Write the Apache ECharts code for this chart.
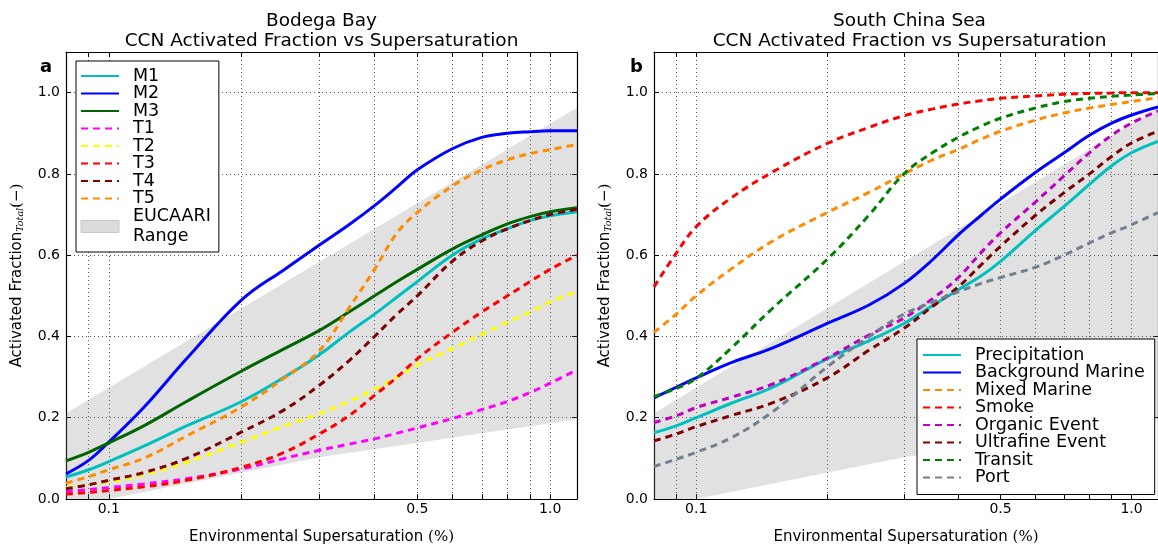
<!DOCTYPE html>
<html>
<head>
<meta charset="utf-8">
<script src="https://cdn.jsdelivr.net/npm/echarts@6/dist/echarts.min.js"></script>
<style>
  html, body { margin: 0; padding: 0; background: #fff; }
  #chart { width: 1158px; height: 550px; }
</style>
</head>
<body>
<div id="chart"></div>
<script>
// Environmental supersaturation (%) at which every curve is sampled
const supersat = [0.08, 0.09, 0.1, 0.12, 0.15, 0.2, 0.25, 0.3, 0.35, 0.4, 0.45, 0.5, 0.6, 0.7, 0.8, 0.9, 1.0, 1.15];

// Panel a: Bodega Bay
const bodegaM1 = [0.054, 0.072, 0.092, 0.13, 0.18, 0.24, 0.30, 0.355, 0.41, 0.455, 0.497, 0.535, 0.60, 0.64, 0.665, 0.685, 0.697, 0.707];
const bodegaM2 = [0.062, 0.095, 0.14, 0.225, 0.345, 0.49, 0.565, 0.625, 0.675, 0.722, 0.768, 0.81, 0.862, 0.89, 0.9, 0.904, 0.906, 0.906];
const bodegaM3 = [0.094, 0.115, 0.138, 0.18, 0.24, 0.315, 0.37, 0.415, 0.46, 0.50, 0.535, 0.565, 0.615, 0.65, 0.677, 0.695, 0.707, 0.717];
const bodegaT1 = [0.018, 0.023, 0.028, 0.037, 0.05, 0.074, 0.10, 0.12, 0.135, 0.148, 0.162, 0.175, 0.198, 0.22, 0.24, 0.262, 0.285, 0.318];
const bodegaT2 = [0.028, 0.035, 0.042, 0.06, 0.09, 0.14, 0.18, 0.21, 0.24, 0.27, 0.30, 0.33, 0.37, 0.405, 0.435, 0.46, 0.485, 0.51];
const bodegaT3 = [0.012, 0.016, 0.021, 0.03, 0.046, 0.078, 0.115, 0.16, 0.205, 0.255, 0.30, 0.345, 0.41, 0.46, 0.50, 0.535, 0.565, 0.60];
const bodegaT4 = [0.025, 0.035, 0.046, 0.065, 0.10, 0.165, 0.22, 0.28, 0.34, 0.40, 0.455, 0.50, 0.585, 0.635, 0.665, 0.685, 0.70, 0.713];
const bodegaT5 = [0.039, 0.055, 0.072, 0.10, 0.155, 0.227, 0.298, 0.365, 0.47, 0.565, 0.655, 0.705, 0.77, 0.81, 0.835, 0.85, 0.86, 0.872];

// Panel b: South China Sea
const scsPrecipitation = [0.163, 0.18, 0.20, 0.235, 0.275, 0.345, 0.39, 0.432, 0.477, 0.515, 0.548, 0.585, 0.66, 0.72, 0.774, 0.82, 0.852, 0.88];
const scsBackground    = [0.249, 0.275, 0.298, 0.335, 0.372, 0.432, 0.478, 0.53, 0.59, 0.65, 0.697, 0.738, 0.803, 0.852, 0.895, 0.925, 0.945, 0.965];
const scsMixed         = [0.41, 0.455, 0.50, 0.565, 0.635, 0.705, 0.755, 0.80, 0.835, 0.86, 0.885, 0.905, 0.932, 0.95, 0.962, 0.971, 0.978, 0.988];
const scsSmoke         = [0.522, 0.605, 0.67, 0.74, 0.805, 0.875, 0.915, 0.943, 0.96, 0.972, 0.98, 0.986, 0.992, 0.996, 0.998, 0.999, 1.0, 1.0];
const scsOrganic       = [0.188, 0.205, 0.225, 0.25, 0.283, 0.347, 0.404, 0.445, 0.494, 0.545, 0.605, 0.655, 0.73, 0.795, 0.852, 0.895, 0.925, 0.955];
const scsUltrafine     = [0.143, 0.16, 0.178, 0.205, 0.237, 0.298, 0.367, 0.42, 0.475, 0.522, 0.575, 0.622, 0.697, 0.754, 0.80, 0.843, 0.876, 0.905];
const scsTransit       = [0.252, 0.272, 0.297, 0.37, 0.47, 0.59, 0.70, 0.80, 0.853, 0.89, 0.917, 0.937, 0.962, 0.978, 0.986, 0.991, 0.994, 0.998];
const scsPort          = [0.08, 0.098, 0.115, 0.15, 0.215, 0.325, 0.40, 0.455, 0.485, 0.51, 0.53, 0.545, 0.57, 0.60, 0.63, 0.655, 0.675, 0.705];

// EUCAARI range band (same in both panels)
const bandS    = [0.08, 0.1, 0.3, 1.15];
const bandLow  = [0, 0, 0.103, 0.196];
const bandHigh = [0.211, 0.274, 0.584, 0.963];

// Axis ticks
const xTickValues  = [0.09, 0.1, 0.2, 0.3, 0.4, 0.5, 0.6, 0.7, 0.8, 0.9, 1.0];
const xLabelValues = [0.1, 0.5, 1.0];
const yTickValues  = [0, 0.2, 0.4, 0.6, 0.8, 1.0];

const FONT = 'DejaVu Sans';
const X_MIN = 0.08, X_MAX = 1.15, Y_MIN = 0, Y_MAX = 1.1;
const BAND_COLOR = 'rgba(128,128,128,0.24)';

const gridDot = { show: true, lineStyle: { color: '#555', width: 1, type: [1, 3] } };

function xAxes(gridIndex) {
  const base = { type: 'log', logBase: 10, min: X_MIN, max: X_MAX, gridIndex };
  return [
    Object.assign({}, base, {
      position: 'bottom',
      axisLine: { show: true, onZero: false, lineStyle: { color: '#000', width: 1.2 } },
      axisTick: { show: true, inside: true, length: 5, customValues: xTickValues, lineStyle: { color: '#000' } },
      axisLabel: { show: true, customValues: xLabelValues, margin: 3, fontSize: 14, fontFamily: FONT, color: '#000',
                   formatter: v => Number(v).toFixed(1) },
      splitLine: gridDot,
      name: 'Environmental Supersaturation {m|(%)}',
      nameLocation: 'middle', nameGap: 31,
      nameTextStyle: { fontSize: 15, fontFamily: FONT, color: '#000',
                       rich: { m: { fontSize: 15, fontFamily: 'DejaVu Serif', color: '#000' } } }
    }),
    Object.assign({}, base, {
      position: 'top',
      axisLine: { show: true, onZero: false, lineStyle: { color: '#000', width: 1.2 } },
      axisTick: { show: true, inside: true, length: 5, customValues: xTickValues, lineStyle: { color: '#000' } },
      axisLabel: { show: false },
      splitLine: { show: false }
    })
  ];
}

function yAxes(gridIndex) {
  const base = { type: 'value', min: Y_MIN, max: Y_MAX, gridIndex };
  return [
    Object.assign({}, base, {
      position: 'left',
      axisLine: { show: true, onZero: false, lineStyle: { color: '#000', width: 1.2 } },
      axisTick: { show: true, inside: true, length: 5, customValues: yTickValues, lineStyle: { color: '#000' } },
      axisLabel: { show: true, customValues: yTickValues, margin: 6, fontSize: 14, fontFamily: FONT, color: '#000',
                   formatter: v => Number(v).toFixed(1) },
      splitLine: gridDot,
      name: 'Activated Fraction{sub|Total}{m|(−)}',
      nameLocation: 'middle', nameGap: 40, nameRotate: 90,
      nameTextStyle: { fontSize: 15, fontFamily: FONT, color: '#000',
        rich: {
          sub: { fontSize: 9.5, fontStyle: 'italic', fontFamily: 'DejaVu Serif', color: '#000', padding: [8, 0, 0, 0] },
          m: { fontSize: 15, fontFamily: 'DejaVu Serif', color: '#000' }
        } }
    }),
    Object.assign({}, base, {
      position: 'right',
      axisLine: { show: true, onZero: false, lineStyle: { color: '#000', width: 1.2 } },
      axisTick: { show: true, inside: true, length: 5, customValues: yTickValues, lineStyle: { color: '#000' } },
      axisLabel: { show: false },
      splitLine: { show: false }
    })
  ];
}

function curve(name, values, color, dashed, axisIndex) {
  return {
    type: 'line', name, xAxisIndex: axisIndex, yAxisIndex: axisIndex,
    data: supersat.map((s, i) => [s, values[i]]),
    smooth: 0.4, symbol: 'none', showSymbol: false,
    lineStyle: { color, width: 3, type: dashed ? [7, 5] : 'solid', cap: 'butt' },
    itemStyle: { color },
    z: 3, silent: true
  };
}

// Shaded range drawn as one polygon: upper edge left to right, lower edge back
function band(axisIndex) {
  return {
    type: 'custom', name: 'EUCAARI Range', xAxisIndex: axisIndex, yAxisIndex: axisIndex,
    data: bandS.map((s, i) => [s, bandLow[i], bandHigh[i]]),
    encode: { x: 0, y: [1, 2] },
    itemStyle: { color: '#dcdcdc' },
    renderItem: (params, api) => {
      if (params.dataIndex !== 0) return null;
      const upper = bandS.map((s, i) => api.coord([s, bandHigh[i]]));
      const lower = bandS.map((s, i) => api.coord([s, bandLow[i]])).reverse();
      return { type: 'polygon', shape: { points: upper.concat(lower) }, style: { fill: BAND_COLOR } };
    },
    clip: true, silent: true, z: 1
  };
}

const COLORS = {
  cyan: '#00bfbf', blue: '#0000ff', dkgreen: '#006400', magenta: '#ff00ff', yellow: '#ffff00',
  red: '#ff0000', maroon: '#7f0000', orange: '#ff8c00', m: '#bf00bf', green: '#008000', slate: '#708090'
};

const series = [
  band(0),
  curve('M1', bodegaM1, COLORS.cyan, false, 0),
  curve('M2', bodegaM2, COLORS.blue, false, 0),
  curve('M3', bodegaM3, COLORS.dkgreen, false, 0),
  curve('T1', bodegaT1, COLORS.magenta, true, 0),
  curve('T2', bodegaT2, COLORS.yellow, true, 0),
  curve('T3', bodegaT3, COLORS.red, true, 0),
  curve('T4', bodegaT4, COLORS.maroon, true, 0),
  curve('T5', bodegaT5, COLORS.orange, true, 0),
  band(2),
  curve('Precipitation', scsPrecipitation, COLORS.cyan, false, 2),
  curve('Background Marine', scsBackground, COLORS.blue, false, 2),
  curve('Mixed Marine', scsMixed, COLORS.orange, true, 2),
  curve('Smoke', scsSmoke, COLORS.red, true, 2),
  curve('Organic Event', scsOrganic, COLORS.m, true, 2),
  curve('Ultrafine Event', scsUltrafine, COLORS.maroon, true, 2),
  curve('Transit', scsTransit, COLORS.green, true, 2),
  curve('Port', scsPort, COLORS.slate, true, 2)
];

const legendText = {
  fontSize: 17.5, fontFamily: FONT, color: '#000', lineHeight: 16.95, padding: [0, 0, 0, 9],
  rich: { two: { fontSize: 17.5, fontFamily: FONT, color: '#000', lineHeight: 19.5 } }
};

const legendBase = {
  orient: 'vertical', itemGap: -0.5, itemWidth: 38, itemHeight: 12, selectedMode: false,
  backgroundColor: '#fff', borderColor: '#000', borderWidth: 1, borderRadius: 0,
  itemStyle: { opacity: 0 },
  textStyle: legendText
};

const titleText = { fontSize: 18.5, fontWeight: 'normal', fontFamily: FONT, color: '#000', lineHeight: 20 };

const option = {
  animation: false,
  backgroundColor: '#fff',
  title: [
    { text: 'Bodega Bay\nCCN Activated Fraction vs Supersaturation', left: 321.5, top: 11, padding: 0,
      textAlign: 'center', textStyle: titleText },
    { text: 'South China Sea\nCCN Activated Fraction vs Supersaturation', left: 909.5, top: 11, padding: 0,
      textAlign: 'center', textStyle: titleText }
  ],
  grid: [
    { left: 66, top: 52, width: 511, height: 450, containLabel: false },
    { left: 654, top: 52, width: 511, height: 450, containLabel: false }
  ],
  xAxis: [].concat(xAxes(0), xAxes(1)),
  yAxis: [].concat(yAxes(0), yAxes(1)),
  legend: [
    Object.assign({}, legendBase, {
      left: 76, top: 61, padding: [6, 8, 6, 4],
      formatter: n => (n === 'EUCAARI Range' ? '{two|EUCAARI\nRange}' : n),
      data: ['M1', 'M2', 'M3', 'T1', 'T2', 'T3', 'T4', 'T5',
             { name: 'EUCAARI Range', icon: 'rect',
               itemStyle: { color: '#dcdcdc', borderColor: '#c8c8c8', borderWidth: 1, opacity: 1 } }]
    }),
    Object.assign({}, legendBase, {
      left: 917, top: 339, padding: [7, 10, 8, 5],
      data: ['Precipitation', 'Background Marine', 'Mixed Marine', 'Smoke',
             'Organic Event', 'Ultrafine Event', 'Transit', 'Port']
    })
  ],
  graphic: [
    { type: 'text', left: 40, top: 58, style: { text: 'a', font: 'bold 18px "DejaVu Sans"', fill: '#000' } },
    { type: 'text', left: 630, top: 58, style: { text: 'b', font: 'bold 18px "DejaVu Sans"', fill: '#000' } }
  ],
  series
};

const chart = echarts.init(document.getElementById('chart'), null, { renderer: 'canvas' });
chart.setOption(option);
</script>
</body>
</html>
